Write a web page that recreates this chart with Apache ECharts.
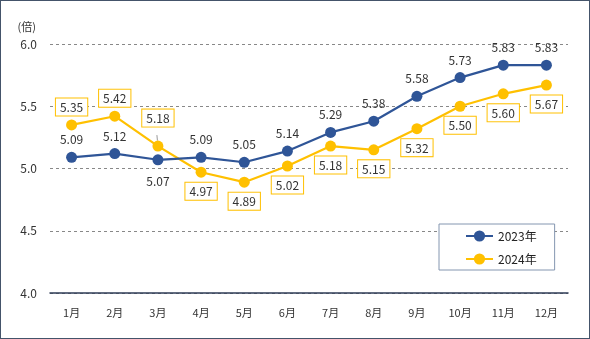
<!DOCTYPE html>
<html><head><meta charset="utf-8">
<script src="https://cdn.jsdelivr.net/npm/echarts@6/dist/echarts.min.js"></script>
<style>html,body{margin:0;padding:0;background:#fff}#c{width:590px;height:339px;box-sizing:border-box;border:1px solid #44546A}</style>
</head><body><div id="c"></div>
<script>
const categories=['1月','2月','3月','4月','5月','6月','7月','8月','9月','10月','11月','12月'];
const s2023=[5.09,5.12,5.07,5.09,5.05,5.14,5.29,5.38,5.58,5.73,5.83,5.83];
const s2024=[5.35,5.42,5.18,4.97,4.89,5.02,5.18,5.15,5.32,5.50,5.60,5.67];
const pos2023=['top','top','bottom','top','top','top','top','top','top','top','top','top'];
const pos2024=['top','top','top','bottom','bottom','bottom','bottom','bottom','bottom','bottom','bottom','bottom'];
const BLUE='#2F5597',YEL='#FFC000',FONT='"Noto Sans CJK JP","Noto Sans",sans-serif';
const chart=echarts.init(document.getElementById('c'));
chart.setOption({
  animation:false,
  textStyle:{fontFamily:FONT},
  grid:{left:49,right:21,top:43,bottom:45},
  legend:{orient:'vertical',left:438,top:223,padding:[6,18,5,26],itemGap:11,
    borderColor:'#8496B0',borderWidth:1,backgroundColor:'#fff',itemWidth:27,itemHeight:14,
    textStyle:{fontSize:12,color:'#222',fontFamily:FONT}},
  xAxis:{type:'category',data:categories,boundaryGap:true,
    axisLine:{lineStyle:{color:'#2E3B55',width:1.5}},axisTick:{show:false},
    axisLabel:{fontSize:11,color:'#333',margin:14,fontFamily:FONT}},
  yAxis:{type:'value',min:4,max:6,interval:0.5,name:'(倍)',nameLocation:'end',nameGap:12,
    nameTextStyle:{fontSize:11,color:'#333',align:'right',padding:[0,14,0,0]},
    axisLabel:{fontSize:12,color:'#333',margin:13,formatter:v=>v.toFixed(1)},
    axisLine:{show:false},axisTick:{show:false},
    splitLine:{lineStyle:{color:'#888',type:[3,3],width:1}}},
  series:[
    {name:'2023年',type:'line',data:s2023.map((v,i)=>({value:v,label:{position:pos2023[i],distance:pos2023[i]==='bottom'?10:6}})),
      color:BLUE,symbol:'circle',symbolSize:11,lineStyle:{width:2.2,color:BLUE},itemStyle:{color:BLUE},
      label:{show:true,fontSize:12,color:'#333',formatter:p=>p.value.toFixed(2)},z:3},
    {name:'2024年',type:'line',data:s2024.map((v,i)=>{
        const d={value:v,label:{position:pos2024[i],distance:pos2024[i]==='bottom'?5:4}};
        if(i===2){d.label={position:'top',distance:4,offset:[0,-10]};d.labelLine={show:true,lineStyle:{color:'#999',width:1}};}
        return d;}),
      color:YEL,symbol:'circle',symbolSize:11,lineStyle:{width:2.2,color:YEL},itemStyle:{color:YEL},
      label:{show:true,fontSize:12,color:'#333',backgroundColor:'#fff',borderColor:YEL,borderWidth:1,
        padding:[3,4,2,4],formatter:p=>p.value.toFixed(2)},labelLine:{show:false},z:2}
  ]
});
</script></body></html>
